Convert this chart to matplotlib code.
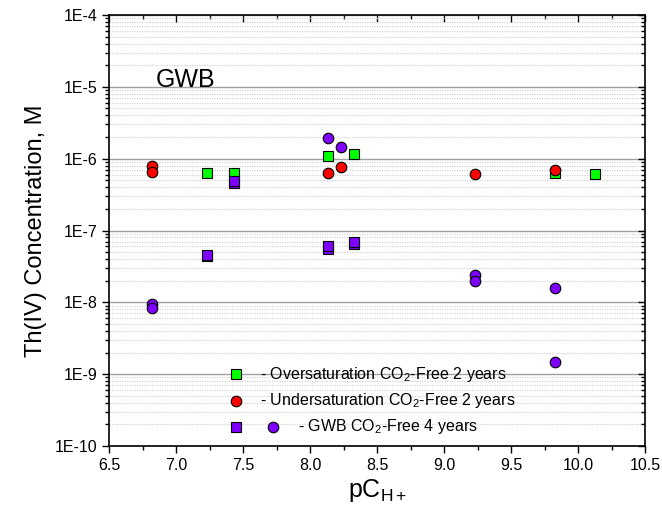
import matplotlib
matplotlib.use("Agg")
import matplotlib.pyplot as plt
from matplotlib.ticker import FixedLocator, NullFormatter, MultipleLocator, FuncFormatter
import numpy as np

plt.rcParams['font.family'] = ['Liberation Sans', 'DejaVu Sans']
plt.rcParams['mathtext.fontset'] = 'custom'
plt.rcParams['mathtext.rm'] = 'Liberation Sans'
plt.rcParams['mathtext.it'] = 'Liberation Sans:italic'
plt.rcParams['mathtext.bf'] = 'Liberation Sans:bold'

# Oversaturation CO2-free 2 years (green squares)
over_x = [7.23, 7.43, 8.13, 8.33, 9.83, 10.13]
over_y = [6.38e-7, 6.25e-7, 1.10e-6, 1.15e-6, 6.38e-7, 6.1e-7]

# Undersaturation CO2-free 2 years (red circles)
under_x = [6.82, 6.82, 8.13, 8.23, 9.23, 9.83]
under_y = [7.9e-7, 6.45e-7, 6.25e-7, 7.58e-7, 6.1e-7, 6.95e-7]

# GWB CO2-free 4 years (purple squares)
gwbsq_x = [7.43, 7.43, 7.23, 7.23, 8.13, 8.13, 8.33, 8.33]
gwbsq_y = [4.6e-7, 4.93e-7, 4.35e-8, 4.56e-8, 5.6e-8, 6.08e-8, 6.5e-8, 6.98e-8]

# GWB CO2-free 4 years (purple circles)
gwbci_x = [8.13, 8.23, 6.82, 6.82, 9.23, 9.23, 9.83, 9.83]
gwbci_y = [1.96e-6, 1.47e-6, 9.5e-9, 8.4e-9, 2.4e-8, 2.0e-8, 1.6e-8, 1.46e-9]

y_exponents = [-10, -9, -8, -7, -6, -5, -4]
y_tick_labels = ["1E-10", "1E-9", "1E-8", "1E-7", "1E-6", "1E-5", "1E-4"]

legend_labels = ["- Oversaturation CO$_2$-Free 2 years",
                 "- Undersaturation CO$_2$-Free 2 years",
                 "- GWB CO$_2$-Free 4 years"]

GREEN = "#00ff00"
RED = "#ff0000"
PURPLE = "#8000ff"

fig = plt.figure(figsize=(6.62, 5.25), dpi=100)
ax = fig.add_axes([0.1651, 0.1505, 0.8092, 0.8209])

ax.set_yscale('log')
ax.set_xlim(6.5, 10.5)
ax.set_ylim(1e-10, 1e-4)

major = [10.0 ** e for e in y_exponents]
minor = [m * 10.0 ** e for e in y_exponents[:-1] for m in range(2, 10)]
ax.yaxis.set_major_locator(FixedLocator(major))
ax.yaxis.set_minor_locator(FixedLocator(minor))
ax.yaxis.set_minor_formatter(NullFormatter())
ax.set_yticks(major)
ax.set_yticklabels(y_tick_labels)

ax.grid(True, which='major', axis='y', color='#a0a0a0', lw=1.0, ls='-', zorder=0)
ax.grid(True, which='minor', axis='y', color='#d4d4d4', lw=0.9, ls=(0, (1, 1)), zorder=0)
ax.set_axisbelow(True)

ms_sq = 6.8
ms_ci = 7.6
ax.plot(over_x, over_y, 's', color=GREEN, mec='black', mew=0.8, ms=ms_sq, zorder=3, clip_on=False)
ax.plot(under_x, under_y, 'o', color=RED, mec='black', mew=0.8, ms=ms_ci, zorder=4, clip_on=False)
ax.plot(gwbsq_x, gwbsq_y, 's', color=PURPLE, mec='black', mew=0.8, ms=ms_sq, zorder=5, clip_on=False)
ax.plot(gwbci_x, gwbci_y, 'o', color=PURPLE, mec='black', mew=0.8, ms=ms_ci, zorder=6, clip_on=False)

ax.xaxis.set_major_locator(MultipleLocator(0.5))
ax.xaxis.set_minor_locator(MultipleLocator(0.25))
ax.xaxis.set_major_formatter(FuncFormatter(lambda v, p: "%.1f" % v))

ax.tick_params(axis='both', which='major', direction='out', length=5, width=1, labelsize=11.5, color='black')
ax.tick_params(axis='both', which='minor', direction='out', length=3, width=1)
ax.tick_params(axis='x', which='both', top=True, labeltop=False)
ax.tick_params(axis='y', which='both', right=True, labelright=False)
for s in ax.spines.values():
    s.set_linewidth(1.2)

# top/right ticks point inward
for t in ax.xaxis.get_major_ticks() + ax.xaxis.get_minor_ticks():
    t.tick2line.set_marker(3)
for t in ax.yaxis.get_major_ticks() + ax.yaxis.get_minor_ticks():
    t.tick2line.set_marker(0)

ax.set_ylabel("Th(IV) Concentration, M", fontsize=17, labelpad=6)
ax.set_xlabel("pC$_{\\mathrm{H+}}$", fontsize=18, labelpad=3)

ax.text(0.087, 0.849, "GWB", transform=ax.transAxes, fontsize=18, ha='left', va='center')

# manual legend
rows_y = [0.167, 0.105, 0.0448]
tr = ax.transAxes
ax.plot([0.2365], [rows_y[0]], 's', color=GREEN, mec='black', mew=0.8, ms=ms_sq, transform=tr, clip_on=False, zorder=7)
ax.plot([0.2365], [rows_y[1]], 'o', color=RED, mec='black', mew=0.8, ms=ms_ci, transform=tr, clip_on=False, zorder=7)
ax.plot([0.2365], [rows_y[2]], 's', color=PURPLE, mec='black', mew=0.8, ms=ms_sq, transform=tr, clip_on=False, zorder=7)
ax.plot([0.306], [rows_y[2]], 'o', color=PURPLE, mec='black', mew=0.8, ms=ms_ci, transform=tr, clip_on=False, zorder=7)
ax.text(0.2813, rows_y[0], legend_labels[0], transform=tr, fontsize=11.5, va='center', ha='left')
ax.text(0.2813, rows_y[1], legend_labels[1], transform=tr, fontsize=11.5, va='center', ha='left')
ax.text(0.352, rows_y[2], legend_labels[2], transform=tr, fontsize=11.5, va='center', ha='left')

fig.savefig("out.png", dpi=100)
